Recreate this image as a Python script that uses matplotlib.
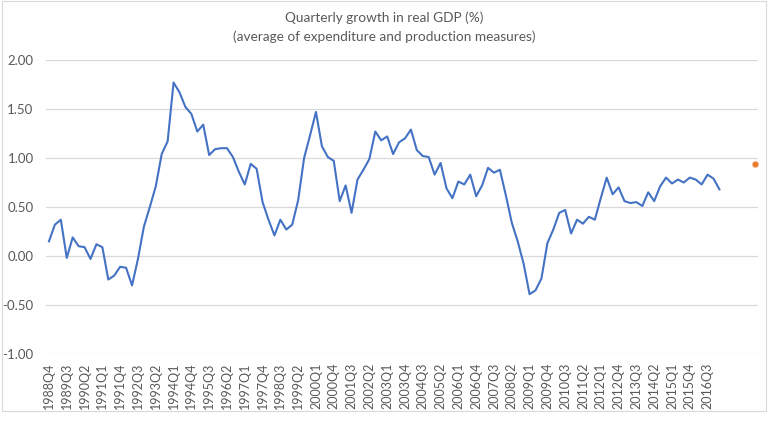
import numpy as np
import matplotlib
matplotlib.use('Agg')
import matplotlib.pyplot as plt
from matplotlib.patches import Rectangle

plt.rcParams['font.family'] = ['Lato', 'DejaVu Sans']

# quarterly growth, 1988Q4 .. 2017Q1
growth = [0.15, 0.32, 0.37, -0.02, 0.19, 0.10, 0.09, -0.03, 0.12, 0.09,
          -0.24, -0.20, -0.11, -0.12, -0.30, -0.03, 0.30, 0.50, 0.71, 1.04,
          1.17, 1.77, 1.67, 1.52, 1.45, 1.27, 1.34, 1.03, 1.09, 1.10,
          1.10, 1.01, 0.86, 0.73, 0.94, 0.89, 0.55, 0.37, 0.21, 0.37,
          0.27, 0.32, 0.57, 1.00, 1.23, 1.47, 1.12, 1.01, 0.97, 0.56,
          0.72, 0.44, 0.78, 0.88, 0.99, 1.27, 1.18, 1.22, 1.04, 1.16,
          1.20, 1.29, 1.08, 1.02, 1.01, 0.83, 0.95, 0.69, 0.59, 0.76,
          0.73, 0.83, 0.61, 0.72, 0.90, 0.85, 0.88, 0.62, 0.34, 0.15,
          -0.08, -0.39, -0.35, -0.23, 0.13, 0.27, 0.44, 0.47, 0.23, 0.37,
          0.33, 0.40, 0.37, 0.59, 0.80, 0.63, 0.70, 0.56, 0.54, 0.55,
          0.51, 0.65, 0.56, 0.71, 0.80, 0.74, 0.78, 0.75, 0.80, 0.78,
          0.73, 0.83, 0.79, 0.68]

# single orange point at the far right of the category axis
extra_pos = 119
extra_val = 0.94
n_cats = 120

start_year, start_q = 1988, 4
quarters = []
y, q = start_year, start_q
for i in range(len(growth)):
    quarters.append('{}Q{}'.format(y, q))
    q += 1
    if q > 4:
        q = 1
        y += 1

tick_idx = list(range(0, 112, 3))
tick_labels = [quarters[i] for i in tick_idx]

grey = '#595959'

fig = plt.figure(figsize=(7.68, 4.30), dpi=100)
fig.patches.append(Rectangle((2 / 768, 1 - 411 / 430), 764 / 768, 410 / 430,
                             transform=fig.transFigure, fill=False,
                             edgecolor='#d9d9d9', linewidth=0.8))

ax = fig.add_axes([46 / 768, 1 - 354 / 430, 712 / 768, 294 / 430])
ax.plot(np.arange(len(growth)), growth, color='#4472C4', linewidth=1.5,
        solid_joinstyle='round')
ax.plot([extra_pos], [extra_val], 'o', color='#ED7D31', markersize=3.5)

ax.set_xlim(-0.5, n_cats - 0.5)
ax.set_ylim(-1.0, 2.0)
yt = np.arange(-1.0, 2.01, 0.5)
ax.set_yticks(yt)
ax.set_yticklabels(['{:.2f}'.format(v) for v in yt])
ax.set_xticks(tick_idx)
ax.set_xticklabels(tick_labels, rotation=90)

ax.grid(axis='y', color='#d9d9d9', linewidth=0.9)
ax.set_axisbelow(True)
for s in ax.spines.values():
    s.set_visible(False)
ax.tick_params(axis='both', length=0, colors=grey)
ax.tick_params(axis='y', labelsize=9.5, pad=9)
ax.tick_params(axis='x', labelsize=9, pad=6)

fig.text(0.5, 1 - 18 / 430, 'Quarterly growth in real GDP (%)', ha='center',
         va='center', fontsize=9.8, color=grey)
fig.text(0.5, 1 - 37 / 430, '(average of expenditure and production measures)',
         ha='center', va='center', fontsize=9.8, color=grey)

fig.savefig('out.png', dpi=100)
